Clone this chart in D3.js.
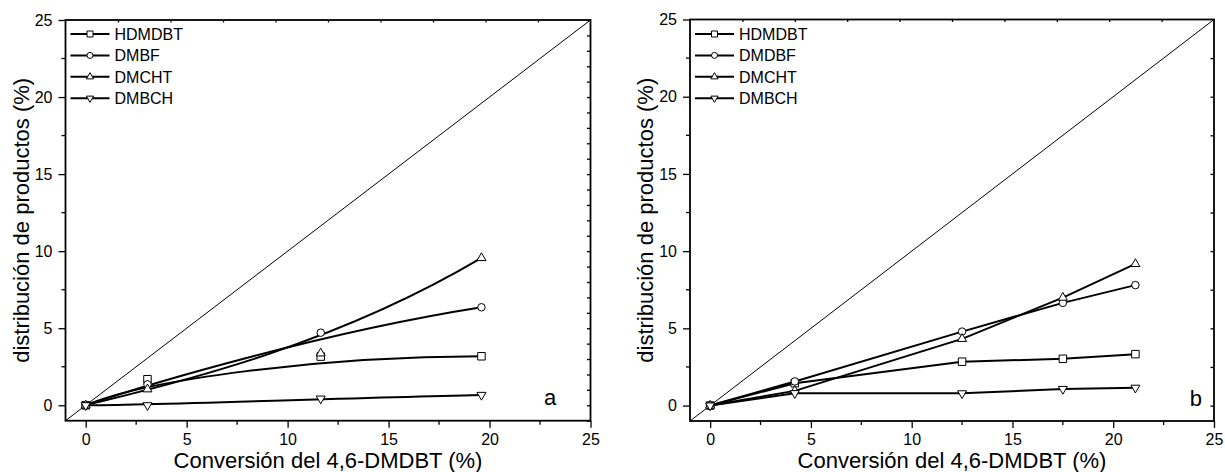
<!DOCTYPE html>
<html>
<head>
<meta charset="utf-8">
<script src="https://cdn.jsdelivr.net/npm/d3@7"></script>
<style>
  html, body { margin: 0; padding: 0; background: #fff; }
  svg { display: block; font-family: Arial, "Liberation Sans", sans-serif; }
</style>
</head>
<body>
<svg id="chart" width="1225" height="472"></svg>
<script>
// Panel a: conversion (%) and product yields (%)
const convA = [0, 3.06, 11.64, 19.6];
const aHDMDBT = [0, 1.69, 3.16, 3.18];
const aDMBF = [0, 1.36, 4.71, 6.36];
const aDMCHT = [0, 1.04, 3.37, 9.56];
const aDMBCH = [0, 0.0, 0.43, 0.67];

// Panel b
const convB = [0, 4.2, 12.5, 17.5, 21.1];
const bHDMDBT = [0, 1.45, 2.84, 3.03, 3.33];
const bDMDBF = [0, 1.56, 4.79, 6.65, 7.8];
const bDMCHT = [0, 0.95, 4.32, 6.99, 9.17];
const bDMBCH = [0, 0.8, 0.79, 1.07, 1.15];

const legendA = ["HDMDBT", "DMBF", "DMCHT", "DMBCH"];
const legendB = ["HDMDBT", "DMDBF", "DMCHT", "DMBCH"];
const markerKinds = ["square", "circle", "up", "down"];

const majorTicks = [0, 5, 10, 15, 20, 25];
const minorTicks = [2.5, 7.5, 12.5, 17.5, 22.5];
const topTicks = [1.6, 4.2, 6.8, 9.4, 12.0, 14.6, 17.2, 19.8, 22.4];
const rightTicksA = d3.range(-1, 26, 1);
const rightTicksB = [0, 2.5, 5, 7.5, 10, 12.5, 15, 17.5, 20, 22.5];

const xTitle = "Conversión del 4,6-DMDBT (%)";
const yTitle = "distribución de productos (%)";

const svg = d3.select("#chart");

// Curve factory: successive groups of points are used as cubic Bézier
// control points (first and last points are on the curve).
function BezierGroups(context) { this._context = context; }
BezierGroups.prototype = {
  areaStart() {}, areaEnd() {},
  lineStart() { this._pts = []; },
  point(x, y) { this._pts.push([+x, +y]); },
  lineEnd() {
    const p = this._pts, c = this._context;
    if (!p.length) return;
    c.moveTo(p[0][0], p[0][1]);
    let i = 1;
    for (; i + 2 < p.length; i += 3) {
      c.bezierCurveTo(p[i][0], p[i][1], p[i + 1][0], p[i + 1][1], p[i + 2][0], p[i + 2][1]);
    }
    for (; i < p.length; i++) c.lineTo(p[i][0], p[i][1]);
  }
};
const curveBezierGroups = context => new BezierGroups(context);

function markerPath(kind, size) {
  if (kind === "square") return d3.symbol(d3.symbolSquare, size * size)();
  if (kind === "circle") return d3.symbol(d3.symbolCircle, Math.PI * (size / 2) * (size / 2))();
  const s = size * 1.2;
  return d3.symbol(d3.symbolTriangle, Math.sqrt(3) / 4 * s * s)();
}

const font = "Arial, 'Liberation Sans', sans-serif";

function drawPanel(opt) {
  const x = d3.scaleLinear().domain([-1, 25]).range([opt.left, opt.right]);
  const y = d3.scaleLinear().domain([-1, 25]).range([opt.bottom, opt.top]);
  const g = svg.append("g");

  // diagonal y = x
  g.append("line")
    .attr("x1", x(-1)).attr("y1", y(-1))
    .attr("x2", x(25)).attr("y2", y(25))
    .attr("stroke", "#000").attr("stroke-width", 1);

  // bottom axis
  const gb = g.append("g").attr("transform", `translate(0,${opt.bottom})`)
    .call(d3.axisBottom(x).tickValues(majorTicks).tickSize(7).tickPadding(6).tickFormat(d3.format("d")));
  gb.append("g").selectAll("line").data(minorTicks).join("line")
    .attr("x1", d => x(d)).attr("x2", d => x(d)).attr("y1", 0).attr("y2", 4)
    .attr("stroke", "#000").attr("stroke-width", 1.3);

  // left axis
  const gl = g.append("g").attr("transform", `translate(${opt.left},0)`)
    .call(d3.axisLeft(y).tickValues(majorTicks).tickSize(7).tickPadding(6).tickFormat(d3.format("d")));
  gl.append("g").selectAll("line").data(minorTicks).join("line")
    .attr("y1", d => y(d)).attr("y2", d => y(d)).attr("x1", 0).attr("x2", -4)
    .attr("stroke", "#000").attr("stroke-width", 1.3);

  // top and right axes with short inward ticks
  const gt = g.append("g").attr("transform", `translate(0,${opt.top})`)
    .call(d3.axisBottom(x).tickValues(opt.topTicks).tickSize(2.5).tickFormat(""));
  const gr = g.append("g").attr("transform", `translate(${opt.right},0)`)
    .call(d3.axisLeft(y).tickValues(opt.rightTicks).tickSize(3.5).tickFormat(""));

  [gb, gl, gt, gr].forEach(ax => {
    ax.selectAll(".tick line").attr("stroke", "#000").attr("stroke-width", 1.3);
    ax.select(".domain").remove();
  });
  // frame
  g.append("rect")
    .attr("x", opt.left).attr("y", opt.top)
    .attr("width", opt.right - opt.left).attr("height", opt.bottom - opt.top)
    .attr("fill", "none").attr("stroke", "#000").attr("stroke-width", 1.8);

  [gb, gl].forEach(ax => ax.selectAll(".tick text")
    .attr("font-size", 16).attr("fill", "#000").attr("font-family", font));

  // axis titles
  g.append("text")
    .attr("x", (opt.left + opt.right) / 2).attr("y", 468)
    .attr("text-anchor", "middle").attr("font-size", 22).text(xTitle);
  g.append("text")
    .attr("transform", `translate(${opt.left - 37},${(opt.top + opt.bottom) / 2}) rotate(-90)`)
    .attr("text-anchor", "middle").attr("font-size", 22).text(yTitle);

  // panel letter
  g.append("text")
    .attr("x", x(opt.letterX)).attr("y", y(0))
    .attr("font-size", 22).text(opt.letter);

  // series lines, then markers on top
  const line = d3.line().x(d => x(d[0])).y(d => y(d[1])).curve(opt.curve);
  opt.series.forEach(vals => {
    const pts = opt.conv.map((c, j) => [c, vals[j]]);
    g.append("path").attr("d", line(pts))
      .attr("fill", "none").attr("stroke", "#000").attr("stroke-width", 2);
  });
  opt.series.forEach((vals, i) => {
    const kind = markerKinds[i];
    g.append("g").selectAll("path").data(opt.conv.map((c, j) => [c, vals[j]])).join("path")
      .attr("d", markerPath(kind, 7.5))
      .attr("transform", d => `translate(${x(d[0])},${y(d[1])})${kind === "down" ? " rotate(180)" : ""}`)
      .attr("fill", "#fff").attr("stroke", "#000").attr("stroke-width", 1);
  });

  // legend
  const lg = g.append("g");
  opt.legend.forEach((name, i) => {
    const ly = 34 + i * 21.4;
    const lx = opt.left + 5;
    lg.append("line").attr("x1", lx).attr("x2", lx + 39).attr("y1", ly).attr("y2", ly)
      .attr("stroke", "#000").attr("stroke-width", 2);
    const kind = markerKinds[i];
    lg.append("path").attr("d", markerPath(kind, 6))
      .attr("transform", `translate(${lx + 19.5},${ly})${kind === "down" ? " rotate(180)" : ""}`)
      .attr("fill", "#fff").attr("stroke", "#000").attr("stroke-width", 1);
    lg.append("text").attr("x", lx + 44).attr("y", ly + 6)
      .attr("font-size", 16).text(name);
  });
}

drawPanel({
  left: 65.5, right: 590.5, top: 20, bottom: 420.7,
  conv: convA, series: [aHDMDBT, aDMBF, aDMCHT, aDMBCH],
  legend: legendA, curve: curveBezierGroups,
  topTicks: topTicks, rightTicks: rightTicksA,
  letter: "a", letterX: 22.7
});

drawPanel({
  left: 690, right: 1214, top: 19.5, bottom: 421,
  conv: convB, series: [bHDMDBT, bDMDBF, bDMCHT, bDMBCH],
  legend: legendB, curve: d3.curveLinear,
  topTicks: topTicks, rightTicks: rightTicksB,
  letter: "b", letterX: 23.8
});
</script>
</body>
</html>
